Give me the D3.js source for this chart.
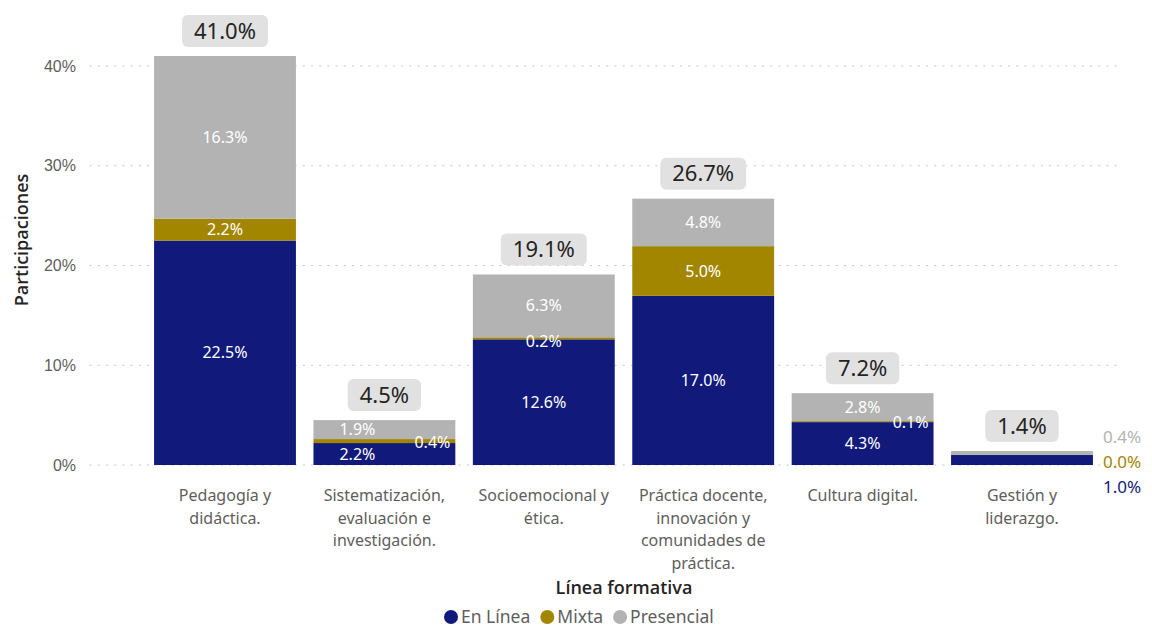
<!DOCTYPE html>
<html><head><meta charset="utf-8">
<script src="https://cdn.jsdelivr.net/npm/d3@7"></script>
<style>
body{margin:0;background:#fff;}
svg{display:block;font-family:"Segoe UI","Noto Sans","Open Sans",sans-serif;}
</style></head>
<body>
<svg id="chart" width="1152" height="629"></svg>
<script>
const categories = ["Pedagogía y didáctica.", "Sistematización, evaluación e investigación.", "Socioemocional y ética.", "Práctica docente, innovación y comunidades de práctica.", "Cultura digital.", "Gestión y liderazgo."];
const categoryLines = [["Pedagogía y","didáctica."],["Sistematización,","evaluación e","investigación."],["Socioemocional y","ética."],["Práctica docente,","innovación y","comunidades de","práctica."],["Cultura digital."],["Gestión y","liderazgo."]];
const seriesNames = ["En Línea", "Mixta", "Presencial"];
const enLinea = [22.5, 2.2, 12.6, 16.96, 4.3, 1.0];
const mixta = [2.2, 0.4, 0.2, 4.98, 0.1, 0.0];
const presencial = [16.3, 1.9, 6.3, 4.76, 2.8, 0.4];
const yTicks = [0, 10, 20, 30, 40];
const colors = ["#111a7a", "#a38600", "#b3b3b3"];

const svg = d3.select("#chart");
const seriesVals = [enLinea, mixta, presencial];
const rows = categories.map((c, i) => ({cat: c, "En Línea": enLinea[i], "Mixta": mixta[i], "Presencial": presencial[i]}));
const stacked = d3.stack().keys(seriesNames)(rows);

const x = d3.scaleBand().domain(categories).range([145.3, 1101.7]).paddingInner(0.11).paddingOuter(0.055);
const y = d3.scaleLinear().domain([0, 40]).range([465, 66]);
const fmt = v => d3.format(".1f")(v) + "%";

// gridlines
svg.append("g").selectAll("line").data(yTicks).join("line")
  .attr("x1", 90).attr("x2", 1122)
  .attr("y1", d => y(d)).attr("y2", d => y(d))
  .attr("stroke", "#c8c8c8").attr("stroke-width", 1.2)
  .attr("stroke-dasharray", "1.2,7").attr("stroke-linecap","round");

// y axis
const yAxis = d3.axisLeft(y).tickValues(yTicks).tickFormat(d => d + "%").tickSize(0).tickPadding(0);
const yg = svg.append("g").attr("transform", "translate(76,0)").call(yAxis);
yg.select(".domain").remove();
yg.selectAll("text").attr("font-size", 16).attr("fill", "#605e5c").attr("font-family", null);

// y title
svg.append("text").attr("transform", "translate(28,240) rotate(-90)")
  .attr("text-anchor", "middle").attr("font-size", 18).attr("font-weight", 600)
  .attr("font-family", "'Open Sans', sans-serif")
  .attr("fill", "#252423").text("Participaciones");

// bars
const g = svg.append("g");
stacked.forEach((s, si) => {
  g.append("g").selectAll("rect").data(s).join("rect")
    .attr("x", d => x(d.data.cat)).attr("width", x.bandwidth())
    .attr("y", d => y(d[1])).attr("height", d => Math.max(0, y(d[0]) - y(d[1])))
    .attr("fill", colors[si]);
});

// segment labels
const labG = svg.append("g").attr("font-size", 16);
categories.forEach((c, i) => {
  const total = enLinea[i] + mixta[i] + presencial[i];
  const barH = y(0) - y(total);
  const cx = x(c) + x.bandwidth() / 2;
  const right = x(c) + x.bandwidth();
  if (barH < 20) {
    const order = [2, 1, 0];
    order.forEach((si, k) => {
      labG.append("text").attr("x", right + 10).attr("y", y(total) - 14 + k * 25)
        .attr("dy", "0.35em").attr("font-size", 17).attr("fill", colors[si])
        .text(fmt(seriesVals[si][i]));
    });
    return;
  }
  const shift = barH < 50 ? -27 : 0;
  stacked.forEach((s, si) => {
    const d = s[i];
    const h = y(d[0]) - y(d[1]);
    const v = seriesVals[si][i];
    const cy = (y(d[0]) + y(d[1])) / 2;
    if (h < 14 && si === 1) {
      if (barH < 100) {
        labG.append("text").attr("x", right - 5).attr("y", cy + 1).attr("dy", "0.35em")
          .attr("text-anchor", "end").attr("fill", "#fff").text(fmt(v));
      } else {
        labG.append("text").attr("x", cx).attr("y", cy + 3).attr("dy", "0.35em")
          .attr("text-anchor", "middle").attr("fill", "#fff").text(fmt(v));
      }
    } else {
      labG.append("text").attr("x", cx + shift).attr("y", cy).attr("dy", "0.35em")
        .attr("text-anchor", "middle").attr("fill", "#fff").text(fmt(v));
    }
  });
});

// total labels
categories.forEach((c, i) => {
  const total = enLinea[i] + mixta[i] + presencial[i];
  const cx = x(c) + x.bandwidth() / 2;
  const top = y(total);
  const tg = svg.append("g");
  const t = tg.append("text").attr("x", cx).attr("y", top - 25).attr("dy", "0.35em")
    .attr("text-anchor", "middle").attr("font-size", 22).attr("fill", "#252423").text(fmt(total));
  const w = t.node().getComputedTextLength() + 24;
  tg.insert("rect", "text").attr("x", cx - w / 2).attr("y", top - 41).attr("width", w).attr("height", 32)
    .attr("rx", 6).attr("fill", "#e1e1e1");
});

// x labels
const xg = svg.append("g");
categories.forEach((c, i) => {
  const cx = x(c) + x.bandwidth() / 2;
  const t = xg.append("text").attr("x", cx).attr("y", 501).attr("text-anchor", "middle")
    .attr("font-size", 16).attr("fill", "#605e5c");
  categoryLines[i].forEach((ln, k) => {
    t.append("tspan").attr("x", cx).attr("y", 501 + k * 22.7).text(ln);
  });
});

// x title
svg.append("text").attr("x", 624).attr("y", 594).attr("text-anchor", "middle")
  .attr("font-size", 18).attr("font-weight", 600)
  .attr("font-family", "'Open Sans', sans-serif")
  .attr("fill", "#252423").text("Línea formativa");

// legend
const lg = svg.append("g");
let lx = 444;
seriesNames.forEach((n, k) => {
  lg.append("circle").attr("cx", lx + 7).attr("cy", 617).attr("r", 7).attr("fill", colors[k]);
  const t = lg.append("text").attr("x", lx + 17).attr("y", 617).attr("dy", "0.35em")
    .attr("font-size", 17.5).attr("fill", "#605e5c").text(n);
  lx += 17 + t.node().getComputedTextLength() + 10;
});
</script>
</body></html>
